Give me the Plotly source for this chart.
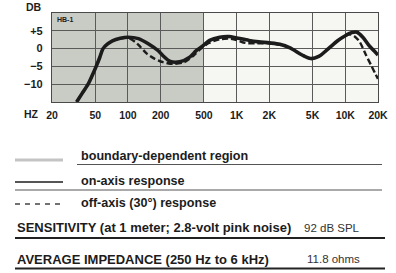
import plotly.graph_objects as go

# ---------------- data ----------------
on_freq = [33.7, 38, 43, 47, 51, 55, 59, 65, 72, 85, 100, 125, 155, 190, 210, 245, 300, 370,
           425, 495, 565, 700, 850, 1000, 1300, 1600, 2000, 2500, 3100, 4000, 4800, 5700,
           7000, 8500, 10000, 11500, 12800, 14500, 16500, 18500, 20000]
on_db = [-15, -12.5, -10, -7.5, -5, -2.5, 0, 1.3, 2.2, 2.9, 3.2, 2.8, 1.3, -0.6, -2.0, -3.6, -3.7, -2.4,
         -0.6, 0.9, 2.3, 3.2, 3.4, 3.0, 2.3, 1.9, 1.6, 1.2, 0.2, -1.8, -2.8, -2.2,
         0.0, 2.2, 3.6, 4.5, 4.6, 3.2, 0.9, -0.7, -1.8]

off_freq = [33.7, 38, 43, 47, 51, 55, 59, 65, 72, 85, 100, 115, 130, 150, 175, 210, 260, 330,
            400, 470, 550, 700, 850, 1000, 1200, 1500, 2000, 2500, 3100, 4000, 4800, 5700,
            7000, 8500, 10000, 11000, 12000, 13500, 15500, 17300, 19000, 20000]
off_db = [-15, -12.5, -10, -7.5, -5, -2.5, 0, 1.3, 2.2, 2.9, 3.0, 2.0, 0.5, -1.5, -2.8, -3.8, -4.3, -3.8,
          -2.0, 0.0, 1.5, 2.6, 2.8, 2.4, 1.6, 1.5, 1.5, 1.1, 0.2, -1.8, -2.8, -2.2,
          0.0, 2.2, 3.6, 4.0, 3.6, 2.0, -1.8, -4.7, -7.2, -8.5]

boundary_region = [20, 500]          # Hz, boundary-dependent region
x_tickvals = [20, 50, 100, 200, 500, 1000, 2000, 5000, 10000, 20000]
x_ticktext = ["20", "50", "100", "200", "500", "1K", "2K", "5K", "10K", "20K"]
y_tickvals = [-10, -5, 0, 5, 10]
y_ticktext = ["\u221210", "\u22125", "0", "+5", ""]

model_label = "HB-1"
legend_items = ["boundary-dependent region", "on-axis response", "off-axis (30\u00b0) response"]
spec_labels = ["SENSITIVITY (at 1 meter; 2.8-volt pink noise)", "AVERAGE IMPEDANCE (250 Hz to 6 kHz)"]
spec_values = ["92 dB SPL", "11.8 ohms"]

# ---------------- layout helpers ----------------
W, H = 396, 273
ML, MR, MT, MB = 52, 18, 13, 171
PW, PH = W - ML - MR, H - MT - MB


def px(x):
    return (x - ML) / PW


def py(y):
    return (H - MB - y) / PH


FONT = "Liberation Sans, Arial, sans-serif"
INK = "#1c1c1c"

fig = go.Figure()

fig.add_trace(go.Scatter(x=on_freq, y=on_db, mode="lines", line=dict(color=INK, width=3.6, shape="spline", smoothing=0.8),
                         showlegend=False, hoverinfo="skip"))
fig.add_trace(go.Scatter(x=off_freq, y=off_db, mode="lines",
                         line=dict(color=INK, width=2.4, dash="6px,3px", shape="spline", smoothing=0.8),
                         showlegend=False, hoverinfo="skip"))

shapes = []
shapes.append(dict(type="rect", xref="x", yref="paper", x0=boundary_region[0], x1=boundary_region[1], y0=0, y1=1,
                   fillcolor="#c9ccc5", line=dict(width=0), layer="below"))

# legend swatches
shapes.append(dict(type="line", xref="paper", yref="paper", x0=px(15), x1=px(63), y0=py(160), y1=py(160),
                   line=dict(color="#c4c4c4", width=3)))
shapes.append(dict(type="line", xref="paper", yref="paper", x0=px(15), x1=px(63), y0=py(182), y1=py(182),
                   line=dict(color=INK, width=1.6)))
shapes.append(dict(type="line", xref="paper", yref="paper", x0=px(15), x1=px(63), y0=py(204), y1=py(204),
                   line=dict(color="#444", width=1.3, dash="5px,5px")))
# rules
shapes.append(dict(type="line", xref="paper", yref="paper", x0=px(77), x1=px(382), y0=py(164.5), y1=py(164.5),
                   line=dict(color="#555", width=1)))
shapes.append(dict(type="line", xref="paper", yref="paper", x0=px(15), x1=px(382), y0=py(190), y1=py(190),
                   line=dict(color="#555", width=1)))
shapes.append(dict(type="line", xref="paper", yref="paper", x0=px(15), x1=px(385), y0=py(238), y1=py(238),
                   line=dict(color="#222", width=2)))
shapes.append(dict(type="line", xref="paper", yref="paper", x0=px(15), x1=px(385), y0=py(268.5), y1=py(268.5),
                   line=dict(color="#222", width=2)))

ann = []
for txt, yy in zip(legend_items, [156, 181, 203]):
    ann.append(dict(text="<b>" + txt + "</b>", x=px(79), y=py(yy), xref="paper", yref="paper",
                    xanchor="left", yanchor="middle", showarrow=False, font=dict(family=FONT, size=12.6, color=INK)))
for txt, yy in zip(spec_labels, [227, 259]):
    ann.append(dict(text="<b>" + txt + "</b>", x=px(15), y=py(yy), xref="paper", yref="paper",
                    xanchor="left", yanchor="middle", showarrow=False, font=dict(family=FONT, size=13, color=INK)))
for txt, xx, yy in zip(spec_values, [302, 305], [228, 259]):
    ann.append(dict(text=txt, x=px(xx), y=py(yy), xref="paper", yref="paper",
                    xanchor="left", yanchor="middle", showarrow=False, font=dict(family=FONT, size=11.5, color="#333")))
ann.append(dict(text="<b>DB</b>", x=px(44), y=py(7.5), xref="paper", yref="paper", xanchor="right", yanchor="middle",
                showarrow=False, font=dict(family=FONT, size=10.5, color=INK)))
ann.append(dict(text="<b>HZ</b>", x=px(41), y=py(113.5), xref="paper", yref="paper", xanchor="right", yanchor="middle",
                showarrow=False, font=dict(family=FONT, size=10.5, color=INK)))
ann.append(dict(text="<b>" + model_label + "</b>", x=px(55), y=py(19.5), xref="paper", yref="paper", xanchor="left",
                yanchor="middle", showarrow=False, font=dict(family=FONT, size=7, color=INK)))

fig.update_layout(
    template="none",
    width=W, height=H, margin=dict(l=ML, r=MR, t=MT, b=MB, pad=0, autoexpand=False),
    paper_bgcolor="white", plot_bgcolor="#f6f6f2",
    shapes=shapes, annotations=ann, showlegend=False,
    font=dict(family=FONT, color=INK),
)
fig.update_xaxes(type="log", range=[1.30103, 4.30103], tickvals=x_tickvals, ticktext=x_ticktext,
                 showgrid=True, gridcolor="#5a5a5a", gridwidth=1, showline=True, linecolor="#4a4a4a", linewidth=1.2,
                 mirror=True, ticks="outside", ticklen=3, tickcolor="rgba(0,0,0,0)", automargin=False,
                 tickfont=dict(family=FONT, size=10.5, color=INK, weight="bold"),
                 zeroline=False, fixedrange=True)
fig.update_yaxes(range=[-15, 10], tickvals=y_tickvals, ticktext=y_ticktext,
                 showgrid=True, gridcolor="#5a5a5a", gridwidth=1, showline=True, linecolor="#4a4a4a", linewidth=1.2,
                 mirror=True, ticks="outside", ticklen=6, tickcolor="rgba(0,0,0,0)", automargin=False,
                 tickfont=dict(family=FONT, size=11, color=INK, weight="bold"),
                 zeroline=False, fixedrange=True)

fig.write_html("out.html", config={"displayModeBar": False},
               post_script="document.body.style.margin='0';document.body.style.padding='0';document.documentElement.style.overflow='hidden';")
